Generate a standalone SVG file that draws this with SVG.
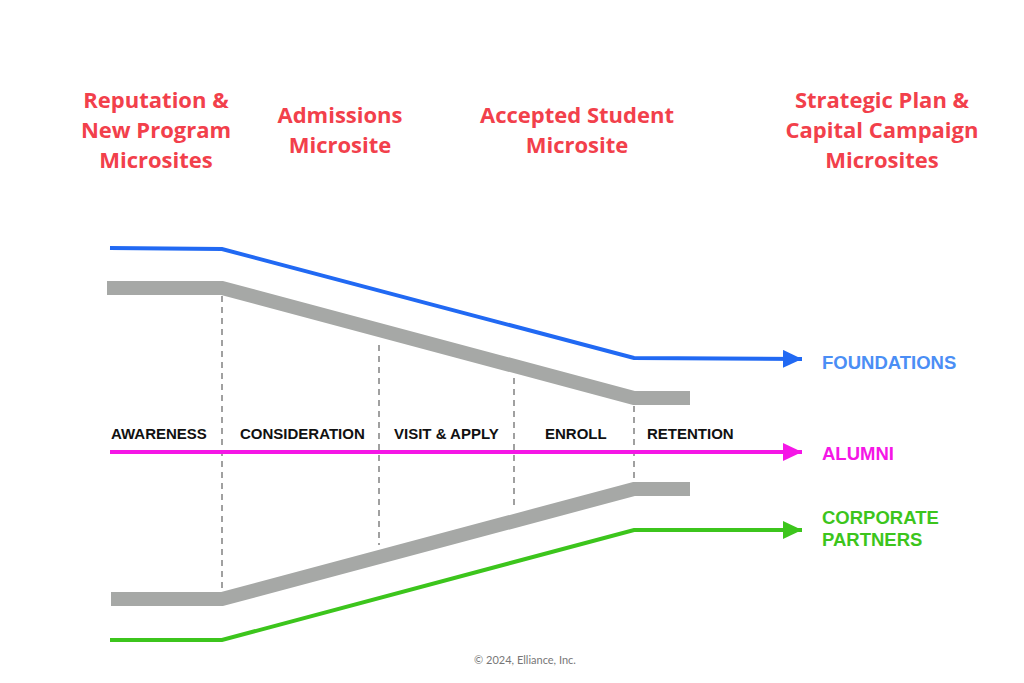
<svg xmlns="http://www.w3.org/2000/svg" width="1024" height="683" viewBox="0 0 1024 683">
<style>
.head{font-family:"Open Sans","Liberation Sans",sans-serif;font-weight:bold;font-size:22px;fill:#f2404b;text-anchor:middle}
.stage{font-family:"Liberation Sans",Arial,sans-serif;font-weight:bold;font-size:15px;fill:#111}
.dest{font-family:"Liberation Sans",Arial,sans-serif;font-weight:bold;font-size:18.5px}
.band{fill:none;stroke:#a6a8a6;stroke-width:14}
.dash{stroke:#a0a0a0;stroke-width:2;stroke-dasharray:6 5}
.flow{fill:none;stroke-width:4}
</style>
<defs>
<marker id="ab" markerUnits="userSpaceOnUse" markerWidth="20" markerHeight="20" refX="19" refY="9" orient="auto"><path d="M0,0 L19,9 L0,18 Z" fill="#2169f3"/></marker>
<marker id="am" markerUnits="userSpaceOnUse" markerWidth="20" markerHeight="20" refX="19" refY="9" orient="auto"><path d="M0,0 L19,9 L0,18 Z" fill="#f516e6"/></marker>
<marker id="ag" markerUnits="userSpaceOnUse" markerWidth="20" markerHeight="20" refX="19" refY="9" orient="auto"><path d="M0,0 L19,9 L0,18 Z" fill="#3cc51c"/></marker>
</defs>
<rect width="1024" height="683" fill="#fff"/>
<g id="headings">
<g id="h1"><text class="head" x="156" y="108">Reputation &amp;</text><text class="head" x="156" y="138">New Program</text><text class="head" x="156" y="168">Microsites</text></g>
<g id="h2"><text class="head" x="340" y="123">Admissions</text><text class="head" x="340" y="153">Microsite</text></g>
<g id="h3"><text class="head" x="577" y="123">Accepted Student</text><text class="head" x="577" y="153">Microsite</text></g>
<g id="h4"><text class="head" x="882" y="108">Strategic Plan &amp;</text><text class="head" x="882" y="138">Capital Campaign</text><text class="head" x="882" y="168">Microsites</text></g>
</g>
<g id="funnel">
<polyline class="band" points="107,288 222,288 634,398 690,398"/>
<polyline class="band" points="111,599 222,599 634,489 690,489"/>
</g>
<g id="dividers">
<line class="dash" x1="222" y1="296" x2="222" y2="590"/>
<line class="dash" x1="379" y1="345" x2="379" y2="545"/>
<line class="dash" x1="514" y1="378" x2="514" y2="510"/>
<line class="dash" x1="634" y1="406" x2="634" y2="482"/>
</g>
<g id="connectors">
<polyline class="flow" stroke="#2169f3" points="110,248 222,249 634,358 802,359" marker-end="url(#ab)"/>
<line class="flow" stroke="#f516e6" x1="110" y1="452" x2="802" y2="452" marker-end="url(#am)"/>
<polyline class="flow" stroke="#3cc51c" points="110,640 222,640 634,530 802,530" marker-end="url(#ag)"/>
</g>
<g id="stages">
<text class="stage" x="111" y="439">AWARENESS</text>
<text class="stage" x="240" y="439">CONSIDERATION</text>
<text class="stage" x="394" y="439">VISIT &amp; APPLY</text>
<text class="stage" x="545" y="439">ENROLL</text>
<text class="stage" x="647" y="439">RETENTION</text>
</g>
<g id="foundations"><text class="dest" x="822" y="369" fill="#4b8ef5">FOUNDATIONS</text></g>
<g id="alumni"><text class="dest" x="822" y="460" fill="#f516e6">ALUMNI</text></g>
<g id="corporate"><text class="dest" x="822" y="524" fill="#3cc51c">CORPORATE</text><text class="dest" x="822" y="546" fill="#3cc51c">PARTNERS</text></g>
<text x="525" y="664" font-family="Lato,'Liberation Sans',sans-serif" font-size="11" fill="#777" text-anchor="middle">© 2024, Elliance, Inc.</text>
</svg>
